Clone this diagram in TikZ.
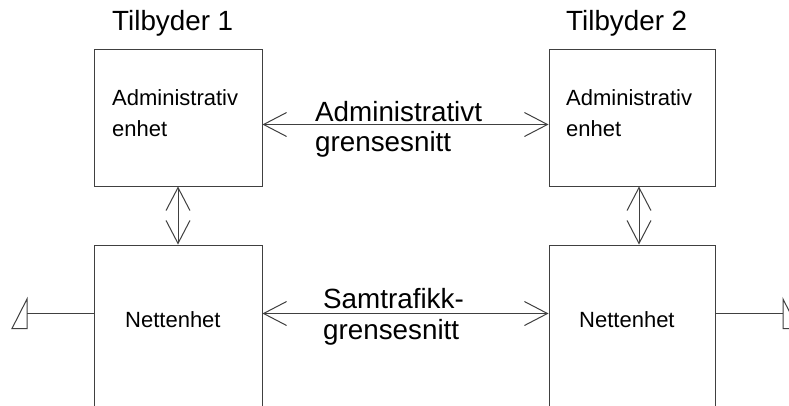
\documentclass[tikz,border=0pt]{standalone}
\usepackage{fontspec}
\setmainfont{Liberation Sans}
\usetikzlibrary{arrows.meta}
\tikzset{
  unitbox/.style={draw=black!75, line width=1pt, minimum width=168pt, inner sep=0pt},
  big/.style={font=\fontsize{27.8}{31}\selectfont, anchor=base west, inner sep=0pt},
  small/.style={font=\fontsize{22}{31}\selectfont, anchor=base west, inner sep=0pt},
  dbl/.style={draw=black!75, line width=1pt, {Straight Barb[length=23pt,width=24pt]}-{Straight Barb[length=23pt,width=24pt]}},
  wire/.style={draw=black!75, line width=1pt},
}
\begin{document}
\begin{tikzpicture}[x=1pt,y=-1pt]
\useasboundingbox (0,0) rectangle (789,405);
\clip (0,0) rectangle (789,405);
\fill[white] (0,0) rectangle (789,405);
% boxes
\node[unitbox, minimum height=137pt] (a1) at (178,117.5) {};
\node[unitbox, minimum height=180pt] (n1) at (178,335) {};
\node[unitbox, minimum width=166pt, minimum height=137pt] (a2) at (632,117.5) {};
\node[unitbox, minimum width=166pt, minimum height=180pt] (n2) at (632,335) {};
% titles
\node[big] (t1) at (112,30.5) {Tilbyder 1};
\node[big] (t2) at (566,30.5) {Tilbyder 2};
% box texts
\node[small] (a1l1) at (112,105.5) {Administrativ};
\node[small] (a1l2) at (112,136.5) {enhet};
\node[small] (a2l1) at (566,105.5) {Administrativ};
\node[small] (a2l2) at (566,136.5) {enhet};
\node[small] (n1t) at (125,327) {Nettenhet};
\node[small] (n2t) at (579,327) {Nettenhet};
% interface labels
\node[big] (il1) at (315,121) {Administrativt};
\node[big] (il2) at (315,151) {grensesnitt};
\node[big] (sl1) at (323,308) {Samtrafikk-};
\node[big] (sl2) at (323,339) {grensesnitt};
% arrows
\draw[dbl] (a1.south) -- (n1.north);
\draw[dbl] ([xshift=7pt]a2.south) -- ([xshift=7pt]n2.north);
\draw[dbl] ([yshift=-7pt]a1.east) -- ([yshift=-7pt]a2.west);
\draw[dbl] ([yshift=21.5pt]n1.east) -- ([yshift=21.5pt]n2.west);
% external lines
\coordinate (le) at (27,313.5);
\coordinate (re) at (783,313.5);
\draw[wire] ([yshift=21.5pt]n1.west) -- (le);
\draw[wire] ([yshift=21.5pt]n2.east) -- (re);
\draw[wire, line join=miter] (27,299) -- (27,328.5) -- (12,328.5) -- cycle;
\draw[wire, line join=miter] (783,299) -- (783,328.5) -- (798,328.5) -- cycle;
\end{tikzpicture}
\end{document}
